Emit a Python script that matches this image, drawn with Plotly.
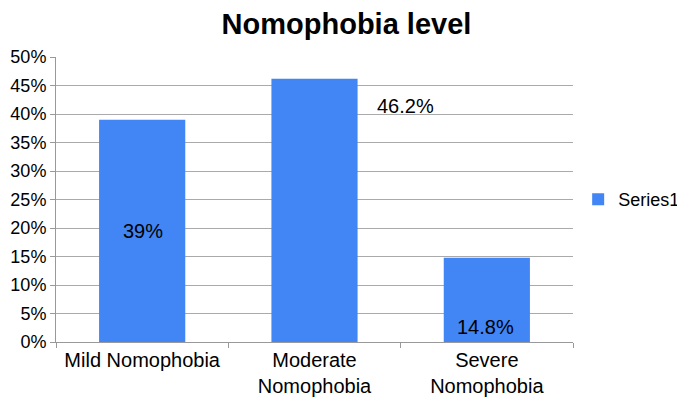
import plotly.graph_objects as go

categories = ["Mild Nomophobia", "Moderate<br>Nomophobia", "Severe<br>Nomophobia"]
values = [39, 46.2, 14.8]
labels = ["39%", "46.2%", "14.8%"]
series_name = "Series1"

fig = go.Figure()
fig.add_trace(go.Bar(
    x=categories, y=values, name=series_name,
    marker=dict(color="#4285F4", line=dict(width=0)),
    width=0.5, showlegend=True,
))

font = "Liberation Sans, Arial, sans-serif"
# data labels
fig.add_annotation(x=categories[0], y=values[0] / 2, text=labels[0], showarrow=False,
                   xshift=1, font=dict(size=20, color="black", family=font))
fig.add_annotation(x=categories[1], y=values[1], text=labels[1], showarrow=False,
                   xshift=91, yshift=-27, font=dict(size=20, color="black", family=font))
fig.add_annotation(x=categories[2], y=0, text=labels[2], showarrow=False,
                   xshift=-1, yshift=15, font=dict(size=20, color="black", family=font))

fig.update_layout(
    width=677, height=390,
    margin=dict(l=48, r=112, t=49, b=56, autoexpand=False),
    paper_bgcolor="white", plot_bgcolor="white",
    title=dict(text="<b>Nomophobia level</b>", x=0.5, xref="container", xanchor="center",
               y=0.985, yanchor="top",
               font=dict(size=29, color="black", family=font)),
    font=dict(family=font, size=20, color="black"),
    legend=dict(x=1.01, y=0.5, xanchor="left", yanchor="middle", font=dict(size=18),
                itemwidth=30),
    bargap=0.5,
)
fig.update_yaxes(range=[0, 50], tick0=0, dtick=5, ticksuffix="%", showgrid=True, gridcolor="#AAAAAA",
                 gridwidth=1, showline=True, linecolor="#999999", ticks="outside", ticklen=5,
                 tickcolor="#999999", zeroline=False, tickfont=dict(size=18))
fig.update_xaxes(showline=True, linecolor="#999999", ticks="outside", ticklen=5, tickcolor="#999999",
                 tickson="boundaries", showgrid=False, tickfont=dict(size=20))

fig.write_html("out.html")
